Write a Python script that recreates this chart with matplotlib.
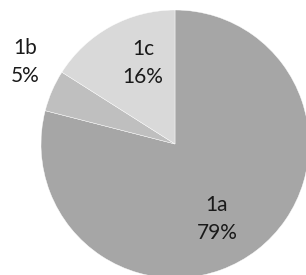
import matplotlib.pyplot as plt

labels = ['1a', '1b', '1c']
shares = [79, 5, 16]
colors = ['#A6A6A6', '#BFBFBF', '#D9D9D9']

# label anchor points (pixel coords, y from top)
label_pos = [(217, 219), (25, 62), (143, 63)]

plt.rcParams['font.family'] = ['Lato', 'DejaVu Sans']

fig = plt.figure(figsize=(3.06, 2.75), dpi=100)
ax = fig.add_axes([0, 0, 1, 1])

ax.pie(shares, colors=colors, startangle=90, counterclock=False,
       center=(175, 131), radius=134, frame=True,
       wedgeprops=dict(edgecolor='white', linewidth=0.3))
ax.set_xlim(0, 306)
ax.set_ylim(0, 275)
ax.set_aspect('equal')
ax.axis('off')

for lab, val, (px, py) in zip(labels, shares, label_pos):
    ax.text(px, 275 - py, lab + '\n' + str(val) + '%', ha='center', va='center',
            fontsize=15, color='#1a1a1a', linespacing=1.55)

fig.savefig('out.png', dpi=100)
